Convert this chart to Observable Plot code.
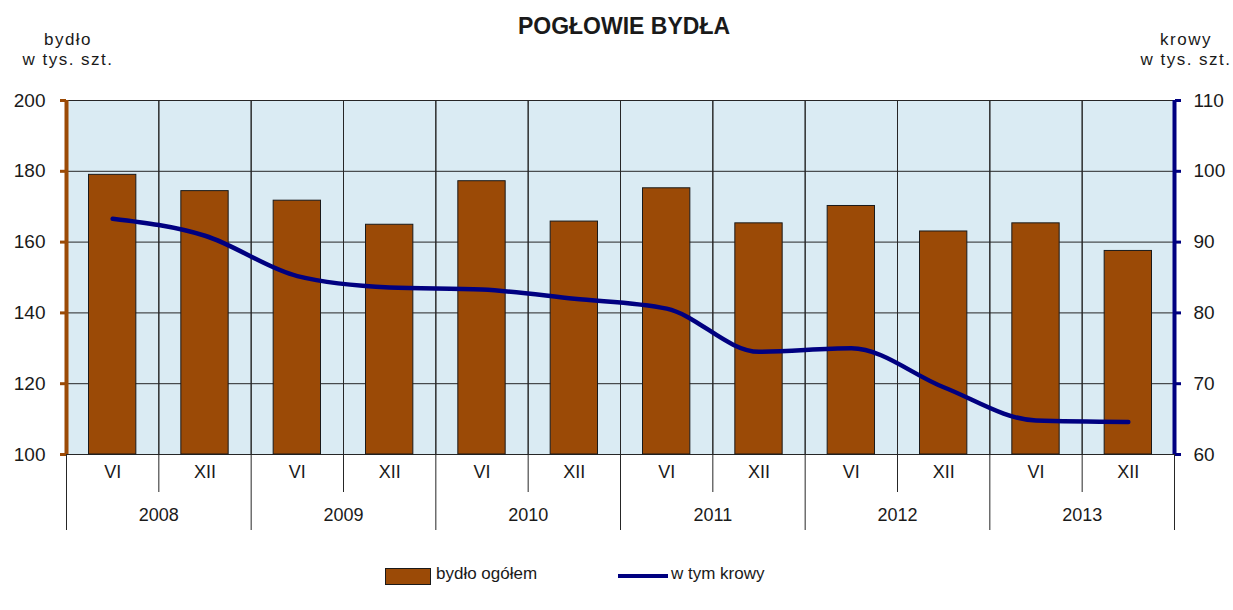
<!DOCTYPE html>
<html>
<head>
<meta charset="utf-8">
<script src="https://cdn.jsdelivr.net/npm/d3@7"></script>
<script src="https://cdn.jsdelivr.net/npm/@observablehq/plot@0.6"></script>
<style>
  html, body { margin: 0; padding: 0; background: #fff; }
  #wrap { position: relative; width: 1233px; height: 610px; font-family: "Liberation Sans", Arial, sans-serif; color: #1a1a1a; }
  .abs { position: absolute; white-space: nowrap; }
  #title { left: 0; width: 1248px; top: 13px; text-align: center; font-weight: bold; font-size: 23px; }
  .unit { font-size: 17px; text-align: center; line-height: 20px; letter-spacing: 1.5px; }
  #chart { position: absolute; left: 0; top: 0; }
  .leg { font-size: 17px; top: 564px; }
</style>
</head>
<body>
<div id="wrap">
  <div id="chart"></div>
  <div class="abs" id="title">POGŁOWIE BYDŁA</div>
  <div class="abs unit" style="left:12px; top:30px; width:112px;">bydło<br>w tys. szt.</div>
  <div class="abs unit" style="left:1130px; top:30px; width:112px;">krowy<br>w tys. szt.</div>
  <div class="abs" style="left:385px; top:568px; width:44px; height:15px; background:#9B4A06; border:1px solid #1a1a1a;"></div>
  <div class="abs leg" style="left:436px;">bydło ogółem</div>
  <div class="abs" style="left:618px; top:574px; width:50px; height:4px; background:#000080;"></div>
  <div class="abs leg" style="left:671px;">w tym krowy</div>
</div>
<script>
const periods = ["VI","XII","VI","XII","VI","XII","VI","XII","VI","XII","VI","XII"];
const years = ["2008","2009","2010","2011","2012","2013"];
const bydlo = [179.0,174.4,171.7,164.9,177.2,165.8,175.2,165.3,170.2,163.0,165.3,157.5];
const krowy = [93.3,90.9,85.2,83.6,83.3,82.0,80.6,74.5,75.0,69.5,64.8,64.6];
const leftTicks = [100,120,140,160,180,200];
const rightTicks = [60,70,80,90,100,110];

// krowy axis (60–110) mapped onto bydło axis (100–200)
const toLeft = k => 100 + (k - 60) * 2;
const fromLeft = v => (v - 100) / 2 + 60;

const data = periods.map((p, i) => ({i, period: p, bydlo: bydlo[i], krowy: krowy[i]}));

const brown = "#9B4A06";
const navy = "#000080";
const grid = "#262626";

const chart = Plot.plot({
  width: 1233,
  height: 560,
  marginTop: 100,
  marginBottom: 106,
  marginLeft: 66,
  marginRight: 59,
  style: {fontFamily: "'Liberation Sans', Arial, sans-serif", fontSize: "19px", color: "#1a1a1a", background: "transparent"},
  x: {domain: [0, 12], axis: null},
  y: {domain: [100, 200]},
  marks: [
    Plot.frame({fill: "#DAEBF3", stroke: grid}),
    Plot.gridY(leftTicks.slice(1, -1), {stroke: grid, strokeOpacity: 1}),
    Plot.ruleX(d3.range(1, 12), {stroke: grid}),
    Plot.ruleX(d3.range(1, 12, 2), {stroke: grid, insetBottom: -38}),
    Plot.ruleX(d3.range(0, 13, 2), {stroke: grid, insetBottom: -76}),
    Plot.rect(data, {x1: d => d.i, x2: d => d.i + 1, y1: 100, y2: "bydlo", insetLeft: 22.5, insetRight: 22.5, fill: brown, stroke: "#1a1a1a"}),
    Plot.line(data, {x: d => d.i + 0.5, y: d => toLeft(d.krowy), stroke: navy, strokeWidth: 4.5, curve: "monotone-x"}),
    Plot.ruleX([0], {stroke: brown, strokeWidth: 4}),
    Plot.ruleX([12], {stroke: navy, strokeWidth: 4}),
    Plot.axisY({anchor: "left", ticks: leftTicks, tickSize: 6, tickPadding: 15, stroke: brown, strokeWidth: 3, label: null, fontSize: 19}),
    Plot.axisY({anchor: "right", ticks: rightTicks.map(toLeft), tickFormat: v => String(fromLeft(v)), tickSize: 6, tickPadding: 13, stroke: navy, strokeWidth: 3, label: null, fontSize: 19}),
    Plot.text(data, {x: d => d.i + 0.5, text: "period", frameAnchor: "bottom", dy: 23, fontSize: 18}),
    Plot.text(years, {x: (d, j) => 2 * j + 1, text: d => d, frameAnchor: "bottom", dy: 66, fontSize: 18})
  ]
});
document.getElementById("chart").appendChild(chart);
</script>
</body>
</html>
